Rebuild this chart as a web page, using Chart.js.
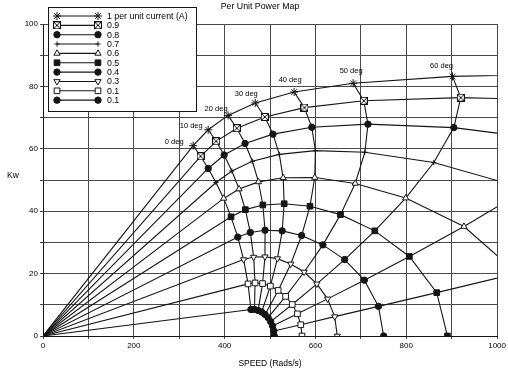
<!DOCTYPE html>
<html>
<head>
<meta charset="utf-8">
<script src="https://cdn.jsdelivr.net/npm/chart.js@4/dist/chart.umd.min.js"></script>
<style>
  html, body { margin: 0; padding: 0; background: #fff; }
  #wrap { width: 508px; height: 378px; }
</style>
</head>
<body>
<div id="wrap"><canvas id="c" width="508" height="378"></canvas></div>
<script>
// Current-angle steps (deg) shared by every constant-current curve
const angleSteps = [0, 10, 20, 30, 40, 50, 60, 70, 80, 90];
const angleLabels = ['0 deg', '10 deg', '20 deg', '30 deg', '40 deg', '50 deg', '60 deg'];
const currentLabels = ['1 per unit current (A)', '0.9', '0.8', '0.7', '0.6', '0.5', '0.4', '0.3', '0.1', '0.1'];

// Speed (Rads/s) and power (Kw) at each angle step, one pair per current level
const speedI10 = [330.7, 363.8, 407.6, 467.5, 553.0, 683.0, 901.8, 1340.6];
const powerI10 = [61.0, 66.1, 70.7, 74.7, 78.2, 81.0, 83.2, 84.6];
const speedI09 = [347.0, 381.3, 426.7, 488.4, 575.6, 706.4, 920.0, 1318.1];
const powerI09 = [57.6, 62.4, 66.6, 70.2, 73.2, 75.4, 76.4, 74.9];
const speedI08 = [363.8, 398.9, 444.9, 506.5, 591.9, 715.6, 904.7, 1209.8];
const powerI08 = [53.7, 58.0, 61.7, 64.7, 66.9, 67.9, 66.8, 61.1];
const speedI07 = [380.9, 415.9, 461.1, 520.4, 599.9, 708.8, 860.5, 1066.5];
const powerI07 = [49.2, 52.9, 56.0, 58.2, 59.4, 58.9, 55.6, 47.1];
const speedI06 = [397.9, 431.8, 474.5, 528.9, 598.5, 687.5, 798.7, 927.1, 1044.7, 1095.8];
const powerI06 = [44.1, 47.1, 49.4, 50.7, 50.8, 48.9, 44.2, 35.1, 20.1, 0];
const speedI05 = [414.1, 445.6, 484.1, 531.1, 587.9, 655.1, 730.7, 806.8, 867.1, 890.6];
const powerI05 = [38.2, 40.5, 42.0, 42.4, 41.6, 38.9, 33.7, 25.5, 13.9, 0];
const speedI04 = [429.0, 456.5, 489.0, 526.7, 569.5, 616.4, 664.2, 707.6, 738.7, 750.2];
const powerI04 = [31.7, 33.2, 33.9, 33.7, 32.2, 29.2, 24.5, 17.9, 9.5, 0];
const speedI03 = [441.8, 463.9, 488.8, 516.2, 545.5, 575.1, 603.1, 626.6, 642.4, 648.0];
const powerI03 = [24.5, 25.3, 25.4, 24.8, 23.1, 20.5, 16.7, 11.9, 6.2, 0];
const speedI02 = [451.6, 467.0, 483.5, 500.7, 517.9, 534.3, 548.9, 560.3, 567.7, 570.3];
const powerI02 = [16.7, 17.0, 16.8, 16.0, 14.6, 12.7, 10.1, 7.1, 3.6, 0];
const speedI01 = [457.9, 465.7, 473.7, 481.5, 489.0, 495.7, 501.4, 505.7, 508.3, 509.2];
const powerI01 = [8.5, 8.5, 8.2, 7.7, 6.9, 5.9, 4.6, 3.2, 1.6, 0];

const xTickValues = [0, 200, 400, 600, 800, 1000];
const yTickValues = [0, 20, 40, 60, 80, 100];

const speeds = [speedI10, speedI09, speedI08, speedI07, speedI06, speedI05, speedI04, speedI03, speedI02, speedI01];
const powers = [powerI10, powerI09, powerI08, powerI07, powerI06, powerI05, powerI04, powerI03, powerI02, powerI01];

const FONT = "'Liberation Sans', Arial, sans-serif";
const INK = '#151515';

// Open square with a diagonal cross, used for the 0.9 curve
function makeBoxX() {
  const cv = document.createElement('canvas');
  cv.width = 8; cv.height = 8;
  const g = cv.getContext('2d');
  g.fillStyle = '#fff';
  g.fillRect(0.5, 0.5, 7, 7);
  g.strokeStyle = INK; g.lineWidth = 1;
  g.strokeRect(0.5, 0.5, 7, 7);
  g.beginPath();
  g.moveTo(1, 1); g.lineTo(7, 7);
  g.moveTo(7, 1); g.lineTo(1, 7);
  g.stroke();
  return cv;
}
const boxX = makeBoxX();

const markers = [
  { style: 'star', r: 4, fill: INK, rot: 0 },
  { style: boxX, r: 4, fill: '#fff', rot: 0 },
  { style: 'circle', r: 3.2, fill: INK, rot: 0 },
  { style: 'cross', r: 2.6, fill: INK, rot: 0 },
  { style: 'triangle', r: 3.6, fill: '#fff', rot: 0 },
  { style: 'rect', r: 4, fill: INK, rot: 0 },
  { style: 'circle', r: 3.2, fill: INK, rot: 0 },
  { style: 'triangle', r: 3.6, fill: '#fff', rot: 180 },
  { style: 'rect', r: 4, fill: '#fff', rot: 0 },
  { style: 'circle', r: 3.2, fill: INK, rot: 0 }
];

const datasets = [];
// Constant-current curves: straight from the origin to the 0 deg point, then through each angle step
speeds.forEach((sp, i) => {
  const pts = [{ x: 0, y: 0 }].concat(sp.map((s, k) => ({ x: s, y: powers[i][k] })));
  const m = markers[i];
  datasets.push({
    label: currentLabels[i],
    data: pts,
    borderColor: INK,
    borderWidth: 1.1,
    pointStyle: m.style,
    pointRotation: m.rot,
    pointRadius: ctx => (ctx.dataIndex === 0 ? 0 : m.r),
    pointBackgroundColor: m.fill,
    pointBorderColor: INK,
    pointBorderWidth: 1,
    tension: 0
  });
});
// Constant-angle curves joining the same angle step across current levels
for (let k = 0; k < 9; k++) {
  const pts = [];
  speeds.forEach((sp, i) => {
    if (sp[k] !== undefined) pts.push({ x: sp[k], y: powers[i][k] });
  });
  datasets.push({
    label: angleSteps[k] + ' deg',
    data: pts,
    borderColor: INK,
    borderWidth: 1.1,
    pointRadius: 0,
    tension: 0
  });
}

function drawMarker(ctx, m, x, y) {
  ctx.save();
  ctx.strokeStyle = INK;
  ctx.fillStyle = m.fill;
  ctx.lineWidth = 1;
  const r = m.r;
  if (m.style === boxX) {
    ctx.drawImage(boxX, x - 4, y - 4);
  } else if (m.style === 'circle') {
    ctx.beginPath(); ctx.arc(x, y, r, 0, Math.PI * 2); ctx.fill(); ctx.stroke();
  } else if (m.style === 'rect') {
    const s = r * Math.SQRT1_2;
    ctx.beginPath(); ctx.rect(x - s, y - s, 2 * s, 2 * s); ctx.fill(); ctx.stroke();
  } else if (m.style === 'cross') {
    ctx.beginPath();
    ctx.moveTo(x - r, y); ctx.lineTo(x + r, y);
    ctx.moveTo(x, y - r); ctx.lineTo(x, y + r);
    ctx.stroke();
  } else if (m.style === 'star') {
    const d = r * Math.SQRT1_2;
    ctx.beginPath();
    ctx.moveTo(x - r, y); ctx.lineTo(x + r, y);
    ctx.moveTo(x, y - r); ctx.lineTo(x, y + r);
    ctx.moveTo(x - d, y - d); ctx.lineTo(x + d, y + d);
    ctx.moveTo(x + d, y - d); ctx.lineTo(x - d, y + d);
    ctx.stroke();
  } else if (m.style === 'triangle') {
    const dir = m.rot === 180 ? -1 : 1;
    ctx.beginPath();
    ctx.moveTo(x, y - dir * r);
    ctx.lineTo(x + r * 0.87, y + dir * r * 0.5);
    ctx.lineTo(x - r * 0.87, y + dir * r * 0.5);
    ctx.closePath(); ctx.fill(); ctx.stroke();
  }
  ctx.restore();
}

// Angle labels beside the full-current points, plus legend and titles
const degOffsets = [[-19, -4], [-17, -4], [-12, -6], [-9, -9], [-4, -12], [-2, -12], [-11, -10]];
const annotations = {
  id: 'annotations',
  afterDatasetsDraw(chart) {
    const ctx = chart.ctx, xs = chart.scales.x, ys = chart.scales.y;
    ctx.save();
    ctx.font = '7.5px ' + FONT;
    ctx.fillStyle = '#000';
    ctx.textAlign = 'center';
    ctx.textBaseline = 'middle';
    angleLabels.forEach((t, k) => {
      const px = xs.getPixelForValue(speedI10[k]) + degOffsets[k][0];
      const py = ys.getPixelForValue(powerI10[k]) + degOffsets[k][1];
      ctx.fillText(t, px, py);
    });
    ctx.restore();
  },
  afterDraw(chart) {
    const ctx = chart.ctx, area = chart.chartArea;
    ctx.save();
    // legend box
    const bx = 48.5, by = 7.5, bw = 148, bh = 104;
    ctx.fillStyle = '#fff';
    ctx.fillRect(bx, by, bw, bh);
    ctx.strokeStyle = INK; ctx.lineWidth = 1;
    ctx.strokeRect(bx, by, bw, bh);
    ctx.font = '8.8px ' + FONT;
    ctx.textAlign = 'left';
    ctx.textBaseline = 'middle';
    currentLabels.forEach((t, i) => {
      const y = 16 + i * 9.35;
      ctx.strokeStyle = INK; ctx.lineWidth = 1.1;
      ctx.beginPath(); ctx.moveTo(57, y); ctx.lineTo(98, y); ctx.stroke();
      drawMarker(ctx, markers[i], 57, y);
      drawMarker(ctx, markers[i], 98, y);
      ctx.fillStyle = '#000';
      ctx.fillText(t, 107, y + 0.5);
    });
    // chart title
    ctx.font = '8.8px ' + FONT;
    ctx.textAlign = 'center';
    ctx.fillText('Per Unit Power Map', 260, 7);
    // axis titles
    ctx.font = '8.5px ' + FONT;
    ctx.fillText('Kw', 13, 176);
    ctx.fillText('SPEED (Rads/s)', (area.left + area.right) / 2, 364);
    ctx.restore();
  }
};

new Chart(document.getElementById('c'), {
  type: 'line',
  data: { datasets },
  options: {
    responsive: false,
    animation: false,
    devicePixelRatio: 1,
    layout: { padding: { top: 24, right: 9, left: 0, bottom: 0 } },
    plugins: { legend: { display: false }, tooltip: { enabled: false }, title: { display: false } },
    scales: {
      x: {
        type: 'linear', min: 0, max: 1000,
        afterFit(s) { s.height = 42; },
        ticks: {
          stepSize: 100, autoSkip: false, maxRotation: 0, padding: 2,
          color: '#000', font: { size: 8, family: FONT },
          callback: v => (xTickValues.includes(v) ? String(v) : '')
        },
        grid: { color: '#4a4a4a', lineWidth: 1, tickLength: 3 },
        border: { color: INK, width: 1 }
      },
      y: {
        type: 'linear', min: 0, max: 100,
        afterFit(s) { s.width = 43; },
        ticks: {
          stepSize: 10, autoSkip: false, padding: 2,
          color: '#000', font: { size: 8, family: FONT },
          callback: v => (yTickValues.includes(v) ? String(v) : '')
        },
        grid: { color: '#4a4a4a', lineWidth: 1, tickLength: 3 },
        border: { color: INK, width: 1 }
      }
    }
  },
  plugins: [annotations]
});
</script>
</body>
</html>
